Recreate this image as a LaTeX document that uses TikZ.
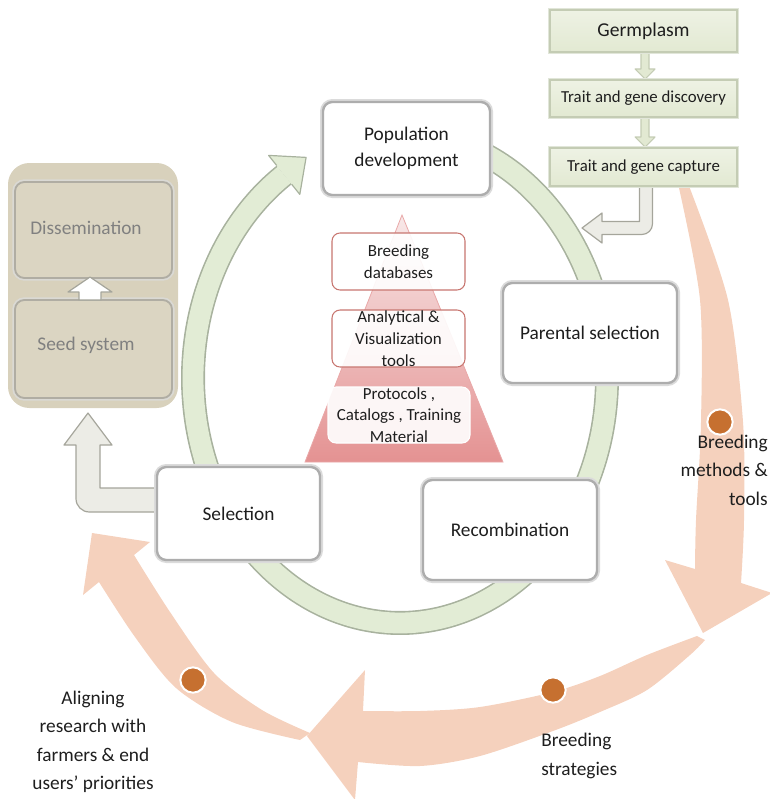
\documentclass[tikz,border=0pt]{standalone}
\usepackage{fontspec}
\setmainfont{Carlito}
\usetikzlibrary{calc}
\definecolor{peach}{RGB}{245,209,189}
\definecolor{dotc}{RGB}{198,112,48}
\definecolor{arcfill}{RGB}{226,236,213}
\definecolor{arcline}{RGB}{168,178,158}
\definecolor{tanfill}{RGB}{216,209,188}
\definecolor{tanbox}{RGB}{219,213,194}
\definecolor{tanline}{RGB}{150,146,132}
\definecolor{tantext}{RGB}{128,128,128}
\definecolor{gstack}{RGB}{226,233,210}
\definecolor{gstacklight}{RGB}{238,242,228}
\definecolor{gstackline}{RGB}{196,204,180}
\definecolor{pinkline}{RGB}{200,118,112}
\definecolor{pyrbot}{RGB}{228,146,146}
\definecolor{pyrtop}{RGB}{248,232,232}
\definecolor{grayarrow}{RGB}{236,236,230}
\definecolor{grayline}{RGB}{165,165,155}
\definecolor{textc}{RGB}{30,30,30}
\newcommand\mainfs{\fontsize{14.5pt}{19.5pt}\selectfont}
\newcommand\lblfs{\fontsize{14.5pt}{21.3pt}\selectfont}
\newcommand\pyrfs{\fontsize{12.7pt}{16.3pt}\selectfont}
\newcommand\germfs{\fontsize{14.7pt}{17pt}\selectfont}
\newcommand\gfs{\fontsize{12.6pt}{15pt}\selectfont}
\begin{document}
\begin{tikzpicture}[x=0.75pt,y=-0.75pt,
  wbox/.style={rectangle, rounded corners=7pt, fill=white, draw=black!32, line width=1.8pt,
    preaction={draw=black!14, line width=4.5pt}, text=textc, align=center, font=\mainfs, inner sep=0pt},
  tbox/.style={rectangle, rounded corners=7pt, fill=tanbox, draw=tanline!75, line width=1.4pt,
    preaction={draw=tanline!35, line width=4pt}, text=tantext, align=center, font=\mainfs, inner sep=0pt},
  gbox/.style={rectangle, top color=gstacklight, bottom color=gstack, draw=gstackline, line width=1.6pt,
    preaction={draw=gstackline!50, line width=3.5pt}, text=textc, align=center, inner sep=0pt},
  pbox/.style={rectangle, rounded corners=6pt, fill=white, fill opacity=0.9, text opacity=1, draw=pinkline, line width=0.8pt,
    text=textc, align=center, font=\pyrfs, inner sep=0pt, minimum width=99.75pt, minimum height=42.75pt},
  lbl/.style={text=textc, font=\lblfs, inner sep=0pt},
  dot/.style={circle, fill=dotc, draw=white, line width=1.5pt, minimum size=19pt, inner sep=0pt},
  blockarrow/.style={fill=grayarrow, draw=grayline, line width=0.9pt, line join=round}
]
\useasboundingbox (0,0) rectangle (770,799);

% ---------- peach outer arrows ----------
\fill[peach] (679,188) -- plot[smooth] coordinates {(679,188) (700,300) (701,422) (696,520) (695,569)}
  -- (665,560) -- (703,633) -- (772,593) -- (741,583)
  -- plot[smooth] coordinates {(741,583) (744,520) (743,422) (728,300) (689,186)} -- cycle;
\fill[peach] (697,636) -- plot[smooth] coordinates {(697,636) (647,655) (600,676) (553,692) (480,707) (420,711) (363,711)}
  -- (365,670) -- (307,736) -- (355,800) -- (358,762)
  -- plot[smooth] coordinates {(358,762) (420,766) (480,756) (553,731) (600,712) (647,690) (690,655) (705,640)} -- cycle;
\fill[peach] (310,733) -- plot[smooth] coordinates {(310,733) (262,710) (214,673) (170,612) (134,555)}
  -- (150,542) -- (92,533) -- (83,595) -- (99,582)
  -- plot[smooth] coordinates {(99,582) (135,637) (176,688) (232,722) (300,740)} -- cycle;

% ---------- green cycle arrow ----------
\draw[arcline, line width=18pt] plot[domain=-80:236, samples=140, smooth, variable=\t] ({400+207*cos(\t)},{378+245*sin(\t)});
\draw[arcfill, line width=15.6pt] plot[domain=-80:236, samples=140, smooth, variable=\t] ({400+207*cos(\t)},{378+245*sin(\t)});
\fill[arcfill] (276.7,165.5) -- (268.6,155.4) -- (306.1,157.4) -- (299.8,194.4) -- (291.7,184.3) -- (282,172) -- cycle;
\draw[arcline, line width=0.9pt, line join=round] (276.7,165.5) -- (268.6,155.4) -- (306.1,157.4) -- (299.8,194.4) -- (291.7,184.3);

% ---------- grey bent arrows ----------
\draw[blockarrow] (639.5,182) -- (639.5,221.5) -- (602,221.5) -- (602,213) -- (582,228) -- (602,243) -- (602,234.5)
  [rounded corners=8pt] -- (652.5,234.5) [sharp corners] -- (652.5,182) -- cycle;
\draw[blockarrow] (165,488) -- (100,488) -- (100,445) -- (112,445) -- (88,413) -- (64,445) -- (76,445)
  [rounded corners=10pt] -- (76,512) [sharp corners] -- (165,512) -- cycle;

% ---------- left tan panel ----------
\node[fill=tanfill, rounded corners=16pt, minimum width=127.5pt, minimum height=183.75pt, inner sep=0pt] (panel) at (93,285.5) {};
\node[tbox, minimum width=117.75pt, minimum height=72pt] (dissem) at (93.5,230) {};
\node[tbox, minimum width=117.75pt, minimum height=73.5pt] (seed) at (93.5,349) {};
\node[text=tantext, font=\mainfs, inner sep=0pt] at (86,228) {Dissemination};
\node[text=tantext, font=\mainfs, inner sep=0pt] at (86,345) {Seed system};
\draw[fill=white, draw=grayline, line width=0.9pt, line join=round]
  (90,277) -- (112,292) -- (101,292) -- (101,300) -- (79,300) -- (79,292) -- (68,292) -- cycle;

% ---------- green stack ----------
\foreach \ya/\yb in {52/80, 117/148}{
  \draw[fill=gstack, draw=gstackline, line width=0.8pt, line join=round]
    (641,\ya) -- (641,\yb-11) -- (635,\yb-11) -- (645,\yb-1) -- (655,\yb-11) -- (649,\yb-11) -- (649,\ya) -- cycle;
}
\node[gbox, font=\germfs, minimum width=140.25pt, minimum height=31.5pt] (germ) at (643.5,31) {Germplasm};
\node[gbox, font=\gfs, minimum width=140.25pt, minimum height=27.75pt] (disc) at (643.5,98.5) {Trait and gene discovery};
\node[gbox, font=\gfs, minimum width=140.25pt, minimum height=28.5pt] (capt) at (643.5,167) {Trait and gene capture};

% ---------- pyramid ----------
\shade[top color=pyrtop, bottom color=pyrbot, draw=pyrbot!80!white, line width=0.6pt] (402,215) -- (503,462) -- (305,462) -- cycle;
\node[pbox] (bdb) at (398.5,261.5) {Breeding\\databases};
\node[pbox] (avt) at (398.5,338.5) {Analytical \&\\Visualization\\tools};
\node[pbox, draw=white, minimum width=106.5pt, minimum height=42pt] (prot) at (399,415) {Protocols ,\\Catalogs , Training\\Material};

% ---------- cycle boxes ----------
\node[wbox, minimum width=125.25pt, minimum height=69.75pt] (popdev) at (406.5,148.5) {Population\\development};
\node[wbox, minimum width=130.5pt, minimum height=75pt] (parent) at (590,333) {Parental selection};
\node[wbox, minimum width=130.5pt, minimum height=75pt] (recomb) at (510,530) {Recombination};
\node[wbox, minimum width=122.25pt, minimum height=69.75pt] (select) at (238.5,513.5) {Selection};

% ---------- labels and dots ----------
\node[dot] (d1) at (720,422) {};
\node[dot] (d2) at (553,690) {};
\node[dot] (d3) at (193,680) {};
\node[lbl, anchor=east, align=right] (methods) at (768,470) {Breeding\\methods \&\\tools};
\node[lbl, anchor=west, align=left] (strat) at (541,756) {Breeding\\strategies};
\node[lbl, align=center] (align) at (93,742) {Aligning\\research with\\farmers \& end\\users’ priorities};
\end{tikzpicture}
\end{document}
